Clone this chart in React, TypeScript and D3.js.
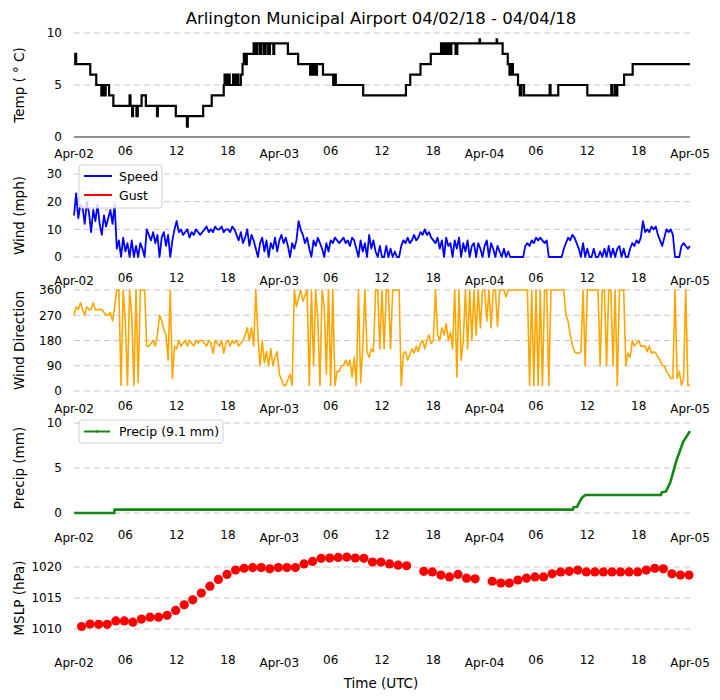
import React from 'react';
import * as d3 from 'd3';

// hours since 2018-04-02 00Z
const tempSteps: [number, number][] = [
  [0, 7], [0.15, 8], [0.25, 7], [1.9, 6], [2.6, 5], [3.2, 4], [3.35, 5], [3.6, 4], [3.7, 5], [4.1, 4], [4.6, 3],
  [6.5, 4], [6.6, 3], [6.8, 2], [6.9, 3], [7.3, 2], [7.45, 3], [7.9, 4], [8.4, 3], [9.7, 2], [9.8, 3],
  [11.9, 2], [13.2, 1], [13.3, 2], [15.1, 3], [16.1, 4], [17.5, 5], [17.6, 6], [17.8, 5], [18.0, 6], [18.2, 5],
  [18.6, 6], [18.8, 5], [19.0, 6], [19.2, 5], [19.5, 6], [19.7, 7], [19.85, 8], [20.0, 7], [20.2, 8], [21.0, 9],
  [21.2, 8], [21.4, 9], [21.7, 8], [21.9, 9], [22.2, 8], [22.4, 9], [22.7, 8], [22.9, 9], [23.3, 8], [23.4, 9],
  [25.0, 8], [26.2, 7], [27.6, 6], [27.75, 7], [28.0, 6], [28.1, 7], [28.3, 6], [28.4, 7], [29.1, 6], [30.3, 5],
  [30.4, 6], [30.6, 5], [33.8, 4], [38.8, 5], [39.3, 6], [40.5, 7], [41.7, 8], [42.9, 9], [43.1, 8], [43.3, 9],
  [43.5, 8], [43.7, 9], [43.9, 8], [44.1, 9], [44.6, 8], [44.8, 9], [47.4, 9.4], [47.45, 9], [49.4, 9.4], [49.45, 9],
  [50.1, 8], [50.7, 7], [50.9, 6], [51.1, 7], [51.3, 6], [51.9, 5], [52.1, 4], [52.3, 5], [52.6, 4], [55.6, 5],
  [55.7, 4], [56.6, 5], [60.0, 4], [62.8, 5], [62.9, 4], [63.2, 5], [63.3, 4], [63.5, 5], [64.3, 6], [65.3, 7],
  [72, 7],
];

// wind speed (mph), every 15 minutes from 00Z
const windSpeed: number[] = [
  15, 23, 14, 19, 18, 12, 20, 16, 9, 17, 13, 19, 12, 8, 15, 11, 14, 17, 12, 19,
  3, 6, 0, 7, 2, 5, 0, 6, 0, 4, 0, 5, 3, 0, 10, 8, 6, 9, 5, 8,
  0, 7, 9, 4, 8, 0, 6, 10, 13, 9, 10, 8, 9, 10, 7, 9, 8, 10, 9, 8,
  9, 10, 11, 9, 10, 9, 11, 10, 10, 11, 9, 10, 10, 9, 11, 10, 8, 6, 9, 5,
  7, 10, 4, 8, 6, 3, 0, 5, 7, 2, 6, 0, 5, 3, 7, 2, 6, 8, 5, 7,
  4, 0, 5, 3, 6, 13, 10, 8, 5, 7, 3, 0, 6, 4, 7, 5, 3, 0, 5, 2,
  6, 5, 7, 6, 5, 6, 7, 5, 6, 4, 7, 6, 3, 0, 6, 2, 5, 0, 8, 3,
  6, 2, 0, 4, 0, 0, 4, 0, 3, 0, 2, 0, 0, 4, 6, 5, 7, 5, 6, 8,
  6, 7, 9, 8, 10, 8, 9, 7, 6, 5, 7, 3, 6, 0, 7, 4, 5, 0, 6, 3,
  7, 0, 5, 2, 6, 0, 4, 5, 0, 5, 3, 0, 4, 6, 0, 5, 3, 0, 4, 2,
  0, 3, 0, 2, 0, 0, 0, 0, 0, 0, 0, 4, 5, 4, 6, 5, 7, 6, 7, 6,
  5, 6, 0, 0, 0, 0, 0, 0, 0, 3, 5, 7, 6, 8, 7, 5, 3, 0, 5, 0,
  3, 0, 0, 3, 0, 0, 2, 0, 3, 0, 4, 0, 3, 0, 3, 4, 0, 3, 0, 0,
  3, 5, 4, 6, 5, 7, 13, 9, 10, 9, 11, 10, 11, 8, 6, 4, 7, 10, 9, 10,
  8, 0, 0, 0, 4, 5, 4, 3, 4,
];

const gustObs: [number, number][] = [
  [0.3, 17], [0.6, 21], [1.0, 25], [1.3, 19], [1.7, 20], [2.0, 24], [2.3, 18],
  [2.7, 22], [3.4, 26], [3.8, 17], [4.3, 23], [4.5, 20],
];

// wind direction (deg), every 15 minutes from 00Z
const windDir: number[] = [
  270, 300, 290, 315, 290, 270, 300, 290, 290, 315, 290, 290, 290, 290, 280, 270, 270, 280, 250, 300,
  360, 360, 20, 360, 250, 20, 360, 270, 20, 360, 30, 360, 360, 360, 160, 160, 170, 180, 160, 200,
  270, 250, 220, 200, 110, 360, 45, 160, 150, 180, 160, 170, 180, 160, 180, 170, 160, 180, 170, 180,
  180, 170, 160, 180, 170, 135, 180, 170, 160, 180, 135, 170, 180, 160, 180, 170, 180, 160, 170, 180,
  200, 225, 180, 225, 160, 360, 200, 90, 180, 100, 140, 90, 150, 90, 120, 140, 60, 40, 20, 20,
  40, 60, 20, 360, 300, 330, 360, 320, 340, 360, 20, 360, 90, 360, 250, 20, 360, 300, 60, 360,
  20, 360, 20, 70, 70, 90, 90, 110, 90, 110, 50, 120, 20, 360, 30, 150, 360, 140, 120, 150,
  140, 360, 360, 150, 360, 150, 360, 360, 150, 360, 360, 360, 360, 20, 135, 140, 110, 130, 150, 135,
  160, 140, 170, 180, 150, 180, 200, 170, 180, 360, 200, 180, 225, 200, 240, 180, 210, 150, 360, 50,
  360, 110, 180, 360, 150, 360, 180, 360, 200, 360, 225, 360, 360, 250, 360, 225, 360, 360, 230, 360,
  360, 360, 335, 360, 360, 360, 360, 360, 360, 360, 360, 360, 360, 20, 360, 20, 360, 20, 360, 20,
  360, 360, 20, 360, 360, 360, 360, 360, 360, 360, 270, 250, 200, 165, 140, 135, 135, 140, 360, 90,
  360, 360, 360, 360, 360, 360, 90, 360, 360, 90, 360, 360, 90, 360, 20, 360, 360, 360, 90, 135,
  120, 180, 160, 170, 180, 160, 160, 160, 140, 160, 135, 140, 135, 120, 110, 90, 90, 70, 60, 45,
  45, 360, 45, 70, 20, 45, 360, 20, 20,
];

const precipPts: [number, number][] = [
  [0, 0], [4.7, 0], [4.75, 0.37], [58.3, 0.37], [58.4, 0.65], [58.8, 0.7], [59.3, 1.6], [59.5, 1.8],
  [59.8, 2.0], [68.6, 2.0], [68.7, 2.3], [69.2, 2.4], [69.7, 3.4], [70.4, 5.8], [71.2, 7.9], [72, 9.1],
];

// hourly METAR sea-level pressure (hPa), observed at hh:53
const mslp: (number | null)[] = [
  1010.4, 1010.8, 1010.75, 1010.75, 1011.3, 1011.3, 1011.1, 1011.6, 1011.9, 1011.9,
  1012.2, 1013.0, 1013.9, 1014.7, 1015.8, 1016.9, 1018.0, 1018.8, 1019.5, 1019.8,
  1019.9, 1019.9, 1019.7, 1019.9, 1019.9, 1019.9, 1020.5, 1020.9, 1021.4, 1021.45,
  1021.55, 1021.6, 1021.45, 1021.4, 1020.8, 1020.8, 1020.5, 1020.3, 1020.2, null,
  1019.3, 1019.2, 1018.7, 1018.4, 1018.8, 1018.2, 1018.1, null,
  1017.7, 1017.4, 1017.4, 1017.9, 1018.2, 1018.4, 1018.4, 1018.9, 1019.2, 1019.3,
  1019.5, 1019.2, 1019.2, 1019.2, 1019.2, 1019.2, 1019.2, 1019.2, 1019.5, 1019.8,
  1019.7, 1018.9, 1018.7, 1018.7,
];

const tickHours = [0, 6, 12, 18, 24, 30, 36, 42, 48, 54, 60, 66, 72];
const tickLabels = ['Apr-02', '06', '12', '18', 'Apr-03', '06', '12', '18', 'Apr-04', '06', '12', '18', 'Apr-05'];

const FONT = 'DejaVu Sans, sans-serif';
const GRID = '#c6c6c6';

const x = d3.scaleLinear().domain([0, 72]).range([74, 690]);

interface Panel {
  key: string;
  label: string;
  domain: [number, number];
  range: [number, number];
  ticks: number[];
  labY: number;
  spine?: boolean;
}

const panels: Panel[] = [
  { key: 'temp', label: 'Temp ( \u00b0 C)', domain: [0, 10], range: [137, 33], ticks: [0, 5, 10], labY: 154.5, spine: true },
  { key: 'wind', label: 'Wind (mph)', domain: [0, 30], range: [257, 174], ticks: [0, 10, 20, 30], labY: 282 },
  { key: 'dir', label: 'Wind Direction', domain: [0, 360], range: [391, 290], ticks: [0, 90, 180, 270, 360], labY: 410 },
  { key: 'precip', label: 'Precip (mm)', domain: [0, 10], range: [513, 423], ticks: [0, 5, 10], labY: 538.5 },
  { key: 'mslp', label: 'MSLP (hPa)', domain: [1010, 1020], range: [629, 567], ticks: [1010, 1015, 1020], labY: 664 },
];

const Axes: React.FC<{ p: Panel; y: d3.ScaleLinear<number, number> }> = ({ p, y }) => {
  const mid = (p.range[0] + p.range[1]) / 2;
  return (
    <g>
      {p.ticks.map(t => (
        (p.spine && t === p.domain[0]) ? null : (
          <line key={t} x1={74} x2={690} y1={y(t)} y2={y(t)} stroke={GRID} strokeDasharray="6,4" strokeWidth={1} />
        )
      ))}
      {p.spine && <line x1={74} x2={690} y1={y(p.domain[0])} y2={y(p.domain[0])} stroke="#222" strokeWidth={1} />}
      {p.ticks.map(t => (
        <text key={'l' + t} x={62} y={y(t)} dy="0.36em" textAnchor="end" fontSize={12} fill="#000">{t}</text>
      ))}
      {tickHours.map((h, i) => (
        <text key={'x' + h} x={x(h)} y={p.labY + (tickLabels[i].startsWith('Apr') ? 3 : 0)} textAnchor="middle" fontSize={12} fill="#000">
          {tickLabels[i]}
        </text>
      ))}
      <text transform={`translate(24,${mid}) rotate(-90)`} textAnchor="middle" fontSize={13.5} fill="#000">{p.label}</text>
    </g>
  );
};

export default function App() {
  const ys = panels.map(p => d3.scaleLinear().domain(p.domain).range(p.range));
  const [yT, yW, yD, yP, yM] = ys;

  const tempLine = d3.line<[number, number]>().x(d => x(d[0])).y(d => yT(d[1])).curve(d3.curveStepAfter);
  const speedLine = d3.line<number>().x((_, i) => x(i * 0.25)).y(d => yW(d));
  const dirLine = d3.line<number>().x((_, i) => x(i * 0.25)).y(d => yD(d));
  const precipLine = d3.line<[number, number]>().x(d => x(d[0])).y(d => yP(d[1]));

  return (
    <svg width={720} height={700} style={{ position: 'absolute', left: 0, top: 0, background: '#fff' }} fontFamily={FONT}>
      <rect width={720} height={700} fill="#fff" />
      <text x={381} y={24} textAnchor="middle" fontSize={16.5} fill="#000">Arlington Municipal Airport 04/02/18 - 04/04/18</text>

      {panels.map((p, i) => <Axes key={p.key} p={p} y={ys[i]} />)}

      {/* temperature */}
      <path d={tempLine(tempSteps) || ''} fill="none" stroke="#000" strokeWidth={2.2} />

      {/* wind */}
      {gustObs.map((g, i) => (
        <circle key={i} cx={x(g[0])} cy={yW(g[1])} r={1.8} fill="red" opacity={0.22} />
      ))}
      <path d={speedLine(windSpeed) || ''} fill="none" stroke="#0000ff" strokeWidth={1.8} strokeLinejoin="round" />
      <g>
        <rect x={79} y={165} width={83} height={43} rx={3} fill="#fff" fillOpacity={0.8} stroke="#d0d0d0" />
        <line x1={84} x2={112} y1={176} y2={176} stroke="#0000ff" strokeWidth={2} />
        <text x={119} y={180.5} fontSize={12.5}>Speed</text>
        <line x1={84} x2={112} y1={195} y2={195} stroke="red" strokeWidth={2} />
        <text x={119} y={199.5} fontSize={12.5}>Gust</text>
      </g>

      {/* wind direction */}
      <path d={dirLine(windDir) || ''} fill="none" stroke="#ffa500" strokeWidth={1.6} strokeLinejoin="round" />

      {/* precip */}
      <path d={precipLine(precipPts) || ''} fill="none" stroke="#118811" strokeWidth={2.6} />
      <g>
        <rect x={79} y={420} width={144} height={23} rx={3} fill="#fff" fillOpacity={0.8} stroke="#d0d0d0" />
        <line x1={84} x2={110} y1={431.5} y2={431.5} stroke="#118811" strokeWidth={2} />
        <circle cx={97} cy={431.5} r={1.2} fill="#118811" />
        <text x={119} y={436} fontSize={12.5}>Precip (9.1 mm)</text>
      </g>

      {/* MSLP */}
      {mslp.map((v, i) => v == null ? null : (
        <circle key={i} cx={x(i + 53 / 60)} cy={yM(v)} r={4.6} fill="red" />
      ))}

      <text x={381} y={688} textAnchor="middle" fontSize={13.5} fill="#000">Time (UTC)</text>
    </svg>
  );
}
